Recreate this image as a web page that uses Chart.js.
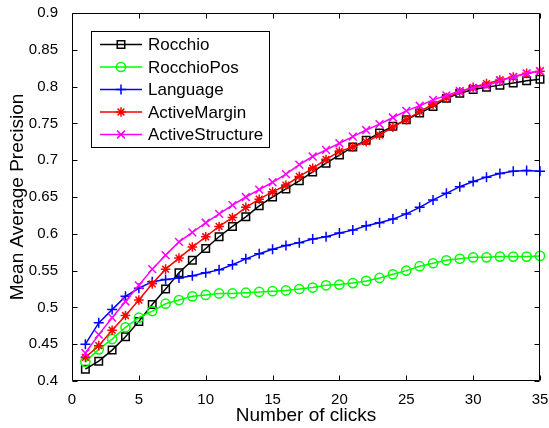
<!DOCTYPE html>
<html>
<head>
<meta charset="utf-8">
<script src="https://cdn.jsdelivr.net/npm/chart.js@4"></script>
<style>
html,body{margin:0;padding:0;background:#fff;}
#wrap{width:549px;height:428px;position:relative;}
</style>
</head>
<body>
<div id="wrap"><canvas id="c" width="549" height="428"></canvas></div>
<script>
const clicks = [1,2,3,4,5,6,7,8,9,10,11,12,13,14,15,16,17,18,19,20,21,22,23,24,25,26,27,28,29,30,31,32,33,34,35];
const rocchio = [0.416,0.427,0.442,0.460,0.481,0.504,0.525,0.547,0.564,0.580,0.596,0.610,0.623,0.638,0.650,0.661,0.672,0.684,0.696,0.707,0.718,0.727,0.737,0.746,0.755,0.764,0.773,0.784,0.791,0.796,0.799,0.802,0.805,0.808,0.810];
const rocchioPos = [0.426,0.443,0.457,0.473,0.486,0.495,0.505,0.510,0.515,0.517,0.519,0.519,0.520,0.521,0.522,0.523,0.525,0.527,0.530,0.531,0.533,0.536,0.540,0.545,0.550,0.556,0.560,0.564,0.566,0.568,0.568,0.569,0.569,0.569,0.570];
const language = [0.450,0.479,0.497,0.515,0.526,0.535,0.538,0.540,0.543,0.547,0.551,0.558,0.566,0.573,0.579,0.584,0.588,0.593,0.596,0.601,0.605,0.611,0.615,0.620,0.627,0.636,0.646,0.655,0.664,0.671,0.677,0.682,0.685,0.686,0.685];
const activeMargin = [0.432,0.448,0.469,0.489,0.510,0.532,0.552,0.567,0.582,0.596,0.610,0.622,0.636,0.647,0.657,0.666,0.678,0.689,0.701,0.712,0.718,0.725,0.734,0.745,0.755,0.766,0.776,0.785,0.793,0.799,0.804,0.809,0.813,0.818,0.821];
const activeStructure = [0.438,0.463,0.486,0.508,0.530,0.552,0.571,0.589,0.602,0.615,0.627,0.639,0.650,0.660,0.670,0.681,0.694,0.705,0.714,0.723,0.732,0.741,0.749,0.758,0.767,0.774,0.782,0.788,0.794,0.798,0.801,0.808,0.813,0.818,0.821];
const xTicks = [0,5,10,15,20,25,30,35];
const yTicks = [0.4,0.45,0.5,0.55,0.6,0.65,0.7,0.75,0.8,0.85,0.9];
const yTickLabels = ['0.4','0.45','0.5','0.55','0.6','0.65','0.7','0.75','0.8','0.85','0.9'];
const seriesNames = ['Rocchio','RocchioPos','Language','ActiveMargin','ActiveStructure'];

const FONT = '"Liberation Sans", Arial, Helvetica, sans-serif';
const toXY = arr => arr.map((v, i) => ({x: clicks[i], y: v}));

function ds(label, values, color, style, radius, order) {
  return {
    label, data: toXY(values),
    borderColor: color, backgroundColor: color,
    borderWidth: 1.5, tension: 0,
    pointStyle: style, pointRadius: radius, pointHoverRadius: radius,
    pointBorderColor: color, pointBackgroundColor: 'rgba(0,0,0,0)',
    pointBorderWidth: 1.5, clip: false, order
  };
}

const datasets = [
  ds(seriesNames[0], rocchio, '#000000', 'rect', 5.3, 5),
  ds(seriesNames[1], rocchioPos, '#00ff00', 'circle', 4.6, 4),
  ds(seriesNames[2], language, '#0000ff', 'cross', 5, 3),
  ds(seriesNames[3], activeMargin, '#ff0000', 'star', 4.8, 2),
  ds(seriesNames[4], activeStructure, '#ff00ff', 'crossRot', 5.5, 1)
];

const framePlugin = {
  id: 'frame',
  afterDraw(chart) {
    const {ctx, chartArea: a, scales: {x, y}} = chart;
    ctx.save();
    ctx.strokeStyle = '#000';
    ctx.lineWidth = 1;
    const L = Math.round(a.left) + 0.5, R = Math.round(a.right) - 0.5;
    const T = Math.round(a.top) + 0.5, B = Math.round(a.bottom) - 0.5;
    ctx.beginPath();
    ctx.rect(L, T, R - L, B - T);
    ctx.stroke();
    const tl = 5;
    ctx.beginPath();
    xTicks.forEach(v => {
      const px = Math.round(x.getPixelForValue(v)) + 0.5;
      ctx.moveTo(px, B); ctx.lineTo(px, B - tl);
      ctx.moveTo(px, T); ctx.lineTo(px, T + tl);
    });
    yTicks.forEach(v => {
      const py = Math.round(y.getPixelForValue(v)) + 0.5;
      ctx.moveTo(L, py); ctx.lineTo(L + tl, py);
      ctx.moveTo(R, py); ctx.lineTo(R - tl, py);
    });
    ctx.stroke();

    // legend box
    const bx = 91.5, by = 31.5, bw = 178, bh = 116;
    ctx.fillStyle = '#fff';
    ctx.fillRect(bx, by, bw, bh);
    ctx.strokeStyle = '#000';
    ctx.lineWidth = 1;
    ctx.strokeRect(bx, by, bw, bh);
    const sets = chart.data.datasets;
    ctx.font = '17px ' + FONT;
    ctx.textBaseline = 'middle';
    ctx.textAlign = 'left';
    sets.forEach((d, i) => {
      const yy = 44.5 + i * 22.5;
      ctx.strokeStyle = d.borderColor;
      ctx.lineWidth = 1.5;
      ctx.beginPath();
      ctx.moveTo(100, yy); ctx.lineTo(142, yy);
      ctx.stroke();
      ctx.fillStyle = 'rgba(0,0,0,0)';
      Chart.helpers.drawPoint(ctx, {pointStyle: d.pointStyle, radius: d.pointRadius, rotation: 0, borderWidth: 1.5}, 121, yy);
      ctx.fillStyle = '#000';
      ctx.fillText(d.label, 148, yy + 1);
    });
    ctx.restore();
  }
};

new Chart(document.getElementById('c'), {
  type: 'line',
  data: {datasets},
  options: {
    responsive: false,
    animation: false,
    events: [],
    layout: {padding: {top: 13, right: 9, left: 0, bottom: 0}},
    plugins: {legend: {display: false}, tooltip: {enabled: false}},
    scales: {
      x: {
        type: 'linear', min: 0, max: 35,
        grid: {display: false}, border: {display: false},
        afterBuildTicks: s => { s.ticks = xTicks.map(v => ({value: v})); },
        afterFit: s => { s.height = 47; s.paddingLeft = 0; s.paddingRight = 0; },
        ticks: {color: '#000', font: {family: FONT, size: 15}, padding: 2, maxRotation: 0,
          callback: v => String(v)},
        title: {display: true, text: 'Number of clicks', color: '#000',
          font: {family: FONT, size: 19}, padding: {top: 0, bottom: 1}}
      },
      y: {
        type: 'linear', min: 0.4, max: 0.9,
        grid: {display: false}, border: {display: false},
        afterBuildTicks: s => { s.ticks = yTicks.map(v => ({value: v})); },
        afterFit: s => { s.width = 72; s.paddingTop = 0; s.paddingBottom = 0; },
        ticks: {color: '#000', font: {family: FONT, size: 15}, padding: 6,
          callback: (v, i) => yTickLabels[i]},
        title: {display: true, text: 'Mean Average Precision', color: '#000',
          font: {family: FONT, size: 19}, padding: {top: 6, bottom: 0}}
      }
    }
  },
  plugins: [framePlugin]
});
</script>
</body>
</html>
